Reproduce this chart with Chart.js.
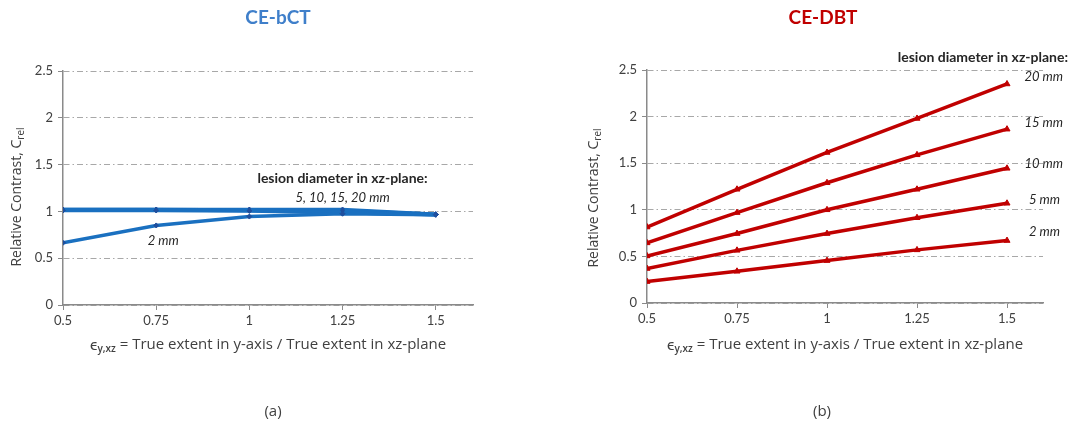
<!DOCTYPE html>
<html>
<head>
<meta charset="utf-8">
<script src="https://cdn.jsdelivr.net/npm/chart.js@4/dist/chart.umd.min.js"></script>
<style>
  html, body { margin: 0; padding: 0; background: #fff; }
  #wrap { position: relative; width: 1072px; height: 427px; }
  .panel { position: absolute; top: 0; width: 536px; height: 427px; }
</style>
</head>
<body>
<div id="wrap">
  <div class="panel" style="left:0"><canvas id="bct" width="536" height="427"></canvas></div>
  <div class="panel" style="left:536px"><canvas id="dbt" width="536" height="427"></canvas></div>
</div>
<script>
// elongation ratio eps_y,xz (x axis)
const ratios = [0.5, 0.75, 1, 1.25, 1.5];
const xTicks = [0.5, 0.75, 1, 1.25, 1.5];
const yTicks = [0, 0.5, 1, 1.5, 2, 2.5];

// CE-bCT relative contrast, per lesion diameter
const bct2mm  = [0.665, 0.85, 0.945, 0.975, 0.965];
const bct5mm  = [1.01, 1.01, 1.005, 0.985, 0.965];
const bct10mm = [1.015, 1.015, 1.01, 1.0, 0.965];
const bct15mm = [1.02, 1.02, 1.015, 1.01, 0.97];
const bct20mm = [1.02, 1.02, 1.02, 1.02, 0.97];

// CE-DBT relative contrast, per lesion diameter
const dbt2mm  = [0.23, 0.34, 0.455, 0.57, 0.67];
const dbt5mm  = [0.37, 0.565, 0.745, 0.915, 1.07];
const dbt10mm = [0.505, 0.745, 1.0, 1.22, 1.445];
const dbt15mm = [0.645, 0.97, 1.29, 1.59, 1.865];
const dbt20mm = [0.815, 1.22, 1.615, 1.98, 2.35];

const dbtLabels = ['2 mm', '5 mm', '10 mm', '15 mm', '20 mm'];

const FONT = 'Lato, "Open Sans", sans-serif';
const WIDE = '"Open Sans", Lato, sans-serif';
const TEXT = '#404040';
const AXIS = '#8a8a8a';
const GRID = '#a8a8a8';

// draws a run of text pieces (for subscripts)
function drawRich(ctx, parts, x, y, align) {
  let w = 0;
  parts.forEach(p => { ctx.font = p.font; w += ctx.measureText(p.t).width; });
  let cx = align === 'center' ? x - w / 2 : (align === 'right' ? x - w : x);
  ctx.textAlign = 'left';
  ctx.textBaseline = 'middle';
  parts.forEach(p => {
    ctx.font = p.font;
    ctx.fillText(p.t, cx, y + (p.dy || 0));
    cx += ctx.measureText(p.t).width;
  });
}

function yTitleParts() {
  return [
    { t: 'Relative Contrast, C', font: '14px ' + WIDE },
    { t: 'rel', font: '10px ' + WIDE, dy: 4 }
  ];
}
function xTitleParts() {
  return [
    { t: '\u03F5', font: '16px ' + WIDE },
    { t: 'y,xz', font: '600 10px ' + WIDE, dy: 4 },
    { t: ' = True extent in y-axis / True extent in xz-plane', font: '15px ' + WIDE }
  ];
}

function series(arr, color, pointStyle, pointColor, radius) {
  return {
    data: ratios.map((r, i) => ({ x: r, y: arr[i] })),
    borderColor: color,
    borderWidth: 3.5,
    pointStyle: pointStyle,
    pointRadius: radius,
    pointBackgroundColor: pointColor,
    pointBorderColor: pointColor,
    pointBorderWidth: 1,
    pointHoverRadius: radius,
    tension: 0,
    fill: false
  };
}

function scales() {
  return {
    x: {
      type: 'linear',
      min: 0.5,
      max: 1.6,
      afterBuildTicks: s => { s.ticks = xTicks.map(v => ({ value: v })); },
      afterFit: s => { s.height = 30; },
      grid: { drawOnChartArea: false, drawTicks: true, tickLength: 5, color: AXIS, lineWidth: 1 },
      border: { display: true, color: AXIS, width: 1.5 },
      ticks: { padding: 3, color: TEXT, font: { family: FONT, size: 13 }, callback: v => String(v) }
    },
    y: {
      type: 'linear',
      min: 0,
      max: 2.5,
      afterBuildTicks: s => { s.ticks = yTicks.map(v => ({ value: v })); },
      afterFit: s => { s.width = 40; },
      grid: { color: GRID, lineWidth: 1, drawTicks: true, tickLength: 5, tickColor: AXIS, tickBorderDash: [] },
      border: { display: true, color: AXIS, width: 1.5, dash: [6, 3, 1.5, 3] },
      ticks: { padding: 5, color: TEXT, font: { family: FONT, size: 13 }, callback: v => String(v) }
    }
  };
}

Chart.defaults.font.family = FONT;

// ---- CE-bCT ----
new Chart(document.getElementById('bct'), {
  type: 'line',
  data: {
    datasets: [
      series(bct2mm, '#1a70c0', 'rectRot', '#1f4f9e', 2.5),
      series(bct5mm, '#1a70c0', 'rectRot', '#1f4f9e', 2.5),
      series(bct10mm, '#1a70c0', 'rectRot', '#1f4f9e', 2.5),
      series(bct15mm, '#1a70c0', 'rectRot', '#1f4f9e', 2.5),
      series(bct20mm, '#1a70c0', 'rectRot', '#1f4f9e', 2.5)
    ]
  },
  options: {
    responsive: false,
    animation: false,
    layout: { padding: { left: 23, right: 63, top: 71, bottom: 92 } },
    plugins: { legend: { display: false }, tooltip: { enabled: false } },
    scales: scales()
  },
  plugins: [{
    id: 'bctText',
    afterDraw(chart) {
      const ctx = chart.ctx, a = chart.chartArea;
      const xs = chart.scales.x, ys = chart.scales.y;
      ctx.save();
      ctx.fillStyle = '#3f7fca';
      drawRich(ctx, [{ t: 'CE-bCT', font: 'bold 19px ' + FONT }], 278, 18, 'center');
      ctx.fillStyle = TEXT;
      ctx.save();
      ctx.translate(17, 197);
      ctx.rotate(-Math.PI / 2);
      drawRich(ctx, yTitleParts(), 0, 0, 'center');
      ctx.restore();
      drawRich(ctx, xTitleParts(), (a.left + a.right) / 2, 345, 'center');
      drawRich(ctx, [{ t: '(a)', font: '15px ' + WIDE }], 273, 412, 'center');
      ctx.fillStyle = '#262626';
      const lx = xs.getPixelForValue(1.25);
      const ly = ys.getPixelForValue(bct20mm[3]);
      drawRich(ctx, [{ t: 'lesion diameter in xz-plane:', font: 'bold 14px ' + FONT }], lx, ly - 31, 'center');
      drawRich(ctx, [{ t: '5, 10, 15, 20 mm', font: 'italic 13px ' + FONT }], lx, ly - 12, 'center');
      drawRich(ctx, [{ t: '2 mm', font: 'italic 13px ' + FONT }],
        xs.getPixelForValue(0.75) + 7, ys.getPixelForValue(bct2mm[1]) + 15, 'center');
      ctx.restore();
    }
  }]
});

// ---- CE-DBT ----
const dbtSets = [dbt2mm, dbt5mm, dbt10mm, dbt15mm, dbt20mm];
const dbtDy = [-9, -3, -5, -6, -7];
new Chart(document.getElementById('dbt'), {
  type: 'line',
  data: {
    datasets: dbtSets.map(s => series(s, '#c00000', 'triangle', '#c00000', 3.5))
  },
  options: {
    responsive: false,
    animation: false,
    layout: { padding: { left: 71, right: 29, top: 70, bottom: 94 } },
    plugins: { legend: { display: false }, tooltip: { enabled: false } },
    scales: scales()
  },
  plugins: [{
    id: 'dbtText',
    afterDraw(chart) {
      const ctx = chart.ctx, a = chart.chartArea;
      const xs = chart.scales.x, ys = chart.scales.y;
      ctx.save();
      ctx.fillStyle = '#c00000';
      drawRich(ctx, [{ t: 'CE-DBT', font: 'bold 19px ' + FONT }], 287, 18, 'center');
      ctx.fillStyle = TEXT;
      ctx.save();
      ctx.translate(58, 198);
      ctx.rotate(-Math.PI / 2);
      drawRich(ctx, yTitleParts(), 0, 0, 'center');
      ctx.restore();
      drawRich(ctx, xTitleParts(), (a.left + a.right) / 2, 345, 'center');
      drawRich(ctx, [{ t: '(b)', font: '15px ' + WIDE }], 286, 412, 'center');
      ctx.fillStyle = '#262626';
      const rx = xs.getPixelForValue(1.5) + 56;
      drawRich(ctx, [{ t: 'lesion diameter in xz-plane:', font: 'bold 14px ' + FONT }], rx + 5, 57, 'right');
      dbtSets.forEach((s, i) => {
        drawRich(ctx, [{ t: dbtLabels[i], font: 'italic 13px ' + FONT }],
          rx - (i < 2 ? 3 : 0), ys.getPixelForValue(s[4]) + dbtDy[i], 'right');
      });
      ctx.restore();
    }
  }]
});
</script>
</body>
</html>
